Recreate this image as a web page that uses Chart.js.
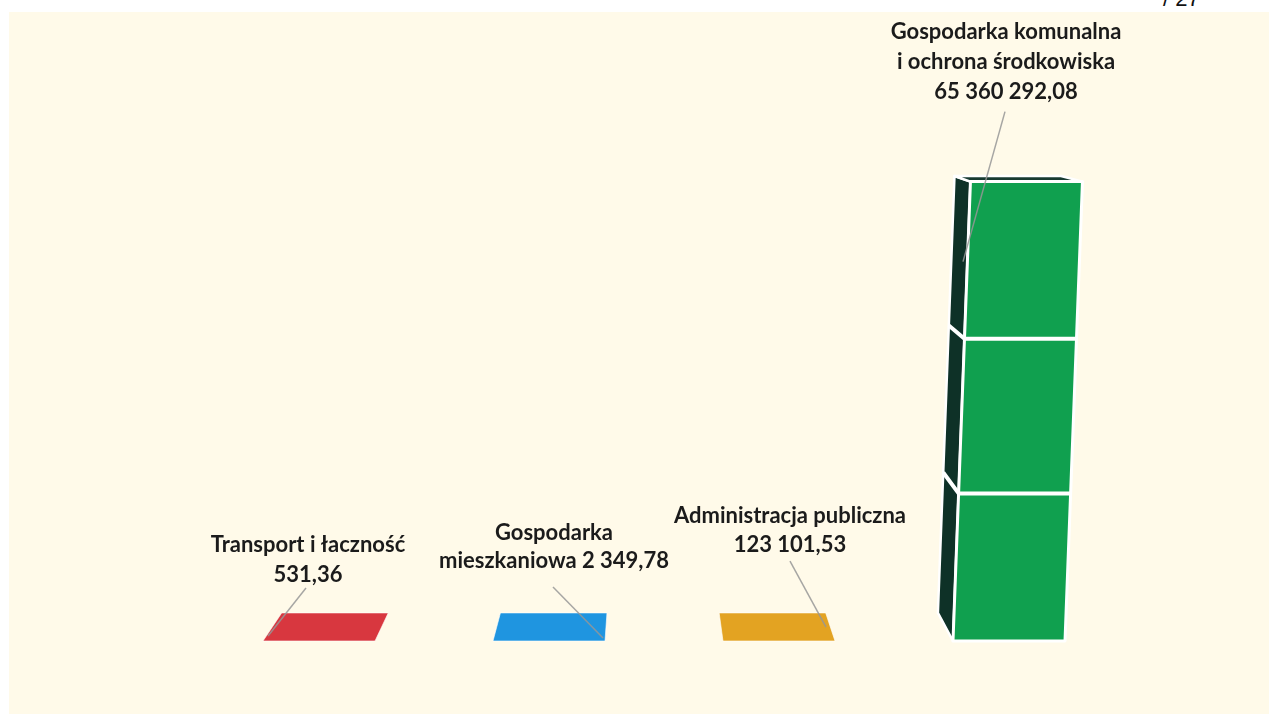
<!DOCTYPE html>
<html lang="pl">
<head>
<meta charset="utf-8">
<title>Wydatki wg działów</title>
<script src="https://cdn.jsdelivr.net/npm/chart.js@4.4.1/dist/chart.umd.min.js"></script>
<style>
    html, body {
        margin: 0;
        padding: 0;
        background: #ffffff;
        width: 1269px;
        height: 714px;
        overflow: hidden;
    }
    #page {
        position: absolute;
        left: 9px;
        top: 12px;
        right: 0;
        bottom: 0;
        background: #fffae9;
    }
    #page_no {
        position: absolute;
        left: 1163px;
        top: -14px;
        font: 22px "Liberation Sans", sans-serif;
        color: #111;
    }
    #chart_box {
        position: absolute;
        left: 0;
        top: 0;
        width: 1269px;
        height: 714px;
    }
</style>
</head>
<body>
<div id="page"></div>
<div id="page_no">/ 27</div>
<div id="chart_box"><canvas id="chart_budget"></canvas></div>

<script>
// data
const categories = [
    ['Transport i łaczność', '531,36'],
    ['Gospodarka', 'mieszkaniowa 2 349,78'],
    ['Administracja publiczna', '123 101,53'],
    ['Gospodarka komunalna', 'i ochrona środkowiska', '65 360 292,08'],
];
const values = [531.36, 2349.78, 123101.53, 65360292.08];
const barColors = ['#d8373f', '#1f95e0', '#e3a322', '#10a04f'];
const sideColors = ['#7a1d22', '#0f4f7a', '#7a5610', '#0e3127'];
const topColors = ['#7a1d22', '#0f4f7a', '#7a5610', '#173a30'];
// value levels of the white lines cutting the tall bar
const gridValues = [21000000, 43000000];

// 3d look: vanishing point, depth and the slight tilt of the scan
const VP = {x: 623, y: 68};
const DEPTH = 0.049;
const TILT = 0.038;

// label offsets from the top of each bar (x, baseline of the first line)
const labelPos = [
    {dx: -11, dy: -89, gap: 30, size: 22, lead: [-13, -53, -51, -5]},
    {dx: 5, dy: -101, gap: 28, size: 22, lead: [4, -54, 54, -3]},
    {dx: 11, dy: -117, gap: 29, size: 22, lead: [11, -79, 47, -13]},
    {dx: -3, dy: -143, gap: 30, size: 22, lead: [-4, -70, -46, 80]},
];

function poly(ctx, pts, fill, stroke, lw) {
    ctx.beginPath();
    ctx.moveTo(pts[0][0], pts[0][1]);
    for (let i = 1; i < pts.length; i++) ctx.lineTo(pts[i][0], pts[i][1]);
    ctx.closePath();
    if (fill) {
        ctx.fillStyle = fill;
        ctx.fill();
    }
    if (stroke) {
        ctx.strokeStyle = stroke;
        ctx.lineWidth = lw;
        ctx.lineJoin = 'round';
        ctx.stroke();
    }
}

const bar3d = {
    id: 'bar3d',
    afterDatasetsDraw(chart) {
        const ctx = chart.ctx;
        const yScale = chart.scales.y;
        const meta = chart.getDatasetMeta(0);

        ctx.save();
        meta.data.forEach((bar, i) => {
            const p = bar.getProps(['x', 'y', 'base', 'width'], true);
            const left = p.x - p.width / 2;
            const right = p.x + p.width / 2;
            const base = p.base;
            const top = p.y;

            const sk = (pt) => [pt[0] + TILT * (base - pt[1]), pt[1]];
            const back = (pt) => [pt[0] + (VP.x - pt[0]) * DEPTH, pt[1] + (VP.y - pt[1]) * DEPTH];

            const fl = [left, base], fr = [right, base];
            const tl = [left, top], tr = [right, top];

            // floor of the bar
            poly(ctx, [fl, fr, back(fr), back(fl)].map(sk), barColors[i], 'rgba(255,255,255,0.6)', 1);

            if (base - top > 1) {
                // left side face
                poly(ctx, [tl, fl, back(fl), back(tl)].map(sk), sideColors[i], '#ffffff', 2.5);
                // top face
                poly(ctx, [tl, tr, back(tr), back(tl)].map(sk), topColors[i], '#ffffff', 2.5);
                // front face
                poly(ctx, [tl, tr, fr, fl].map(sk), barColors[i], '#ffffff', 3);

                ctx.strokeStyle = '#ffffff';
                ctx.lineWidth = 4;
                gridValues.forEach((v) => {
                    if (v >= values[i]) return;
                    const gy = yScale.getPixelForValue(v);
                    const a = sk([left, gy]), b = sk([right, gy]), c = sk(back([left, gy]));
                    ctx.beginPath();
                    ctx.moveTo(c[0], c[1]);
                    ctx.lineTo(a[0], a[1]);
                    ctx.lineTo(b[0], b[1]);
                    ctx.stroke();
                });
            }
        });

        // leader lines and labels
        meta.data.forEach((bar, i) => {
            const p = bar.getProps(['x', 'y'], true);
            const lp = labelPos[i];

            ctx.strokeStyle = 'rgba(150,150,150,0.85)';
            ctx.lineWidth = 1.5;
            ctx.beginPath();
            ctx.moveTo(p.x + lp.lead[0], p.y + lp.lead[1]);
            ctx.lineTo(p.x + lp.lead[2], p.y + lp.lead[3]);
            ctx.stroke();

            ctx.fillStyle = '#1b1b1b';
            ctx.font = 'bold ' + lp.size + 'px Lato, "Open Sans", sans-serif';
            ctx.textAlign = 'center';
            ctx.textBaseline = 'alphabetic';
            categories[i].forEach((line, j) => {
                ctx.fillText(line, p.x + lp.dx, p.y + lp.dy + j * lp.gap);
            });
        });
        ctx.restore();
    }
};

const budget_chart = new Chart(document.getElementById('chart_budget'), {
    type: 'bar',
    data: {
        labels: categories.map((c) => c.join(' ')),
        datasets: [{
            data: values,
            backgroundColor: 'rgba(0,0,0,0)',
            borderWidth: 0,
            categoryPercentage: 1.0,
            barPercentage: 0.487,
        }]
    },
    options: {
        responsive: true,
        maintainAspectRatio: false,
        animation: false,
        layout: {
            padding: {left: 204, right: 145, top: 149, bottom: 73}
        },
        scales: {
            x: {display: false},
            y: {display: false, min: 0, max: 70000000},
        },
        plugins: {
            legend: {display: false},
            tooltip: {enabled: false},
        }
    },
    plugins: [bar3d]
});
</script>
</body>
</html>
